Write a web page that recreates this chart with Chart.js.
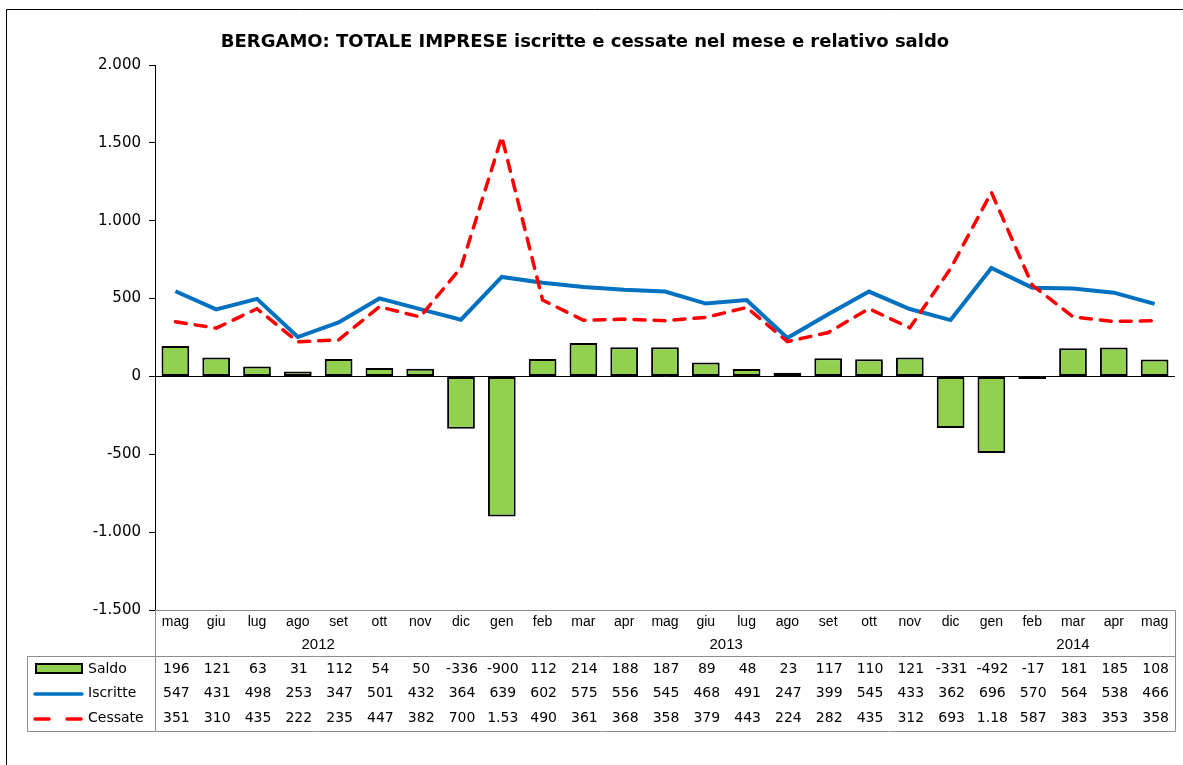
<!DOCTYPE html>
<html>
<head>
<meta charset="utf-8">
<script src="https://cdn.jsdelivr.net/npm/chart.js@4.4.1/dist/chart.umd.min.js"></script>
<style>
  html, body { margin: 0; padding: 0; background: #fff; }
  #wrap { width: 1183px; height: 765px; position: relative; }
</style>
</head>
<body>
<div id="wrap"><canvas id="chart" width="1183" height="765"></canvas></div>
<script>
// Data
const months = ['mag', 'giu', 'lug', 'ago', 'set', 'ott', 'nov', 'dic', 'gen', 'feb', 'mar', 'apr', 'mag',
                'giu', 'lug', 'ago', 'set', 'ott', 'nov', 'dic', 'gen', 'feb', 'mar', 'apr', 'mag'];
const years = [
    { label: '2012', from: 0, to: 7 },
    { label: '2013', from: 8, to: 19 },
    { label: '2014', from: 20, to: 24 }
];
const saldo = [196, 121, 63, 31, 112, 54, 50, -336, -900, 112, 214, 188, 187, 89, 48, 23, 117, 110, 121, -331, -492, -17, 181, 185, 108];
const iscritte = [547, 431, 498, 253, 347, 501, 432, 364, 639, 602, 575, 556, 545, 468, 491, 247, 399, 545, 433, 362, 696, 570, 564, 538, 466];
const cessate = [351, 310, 435, 222, 235, 447, 382, 700, 1539, 490, 361, 368, 358, 379, 443, 224, 282, 435, 312, 693, 1182, 587, 383, 353, 358];

// table shows values the way the source table does (big ones cut to 1.xx)
function tableText(v) {
    if (Math.abs(v) >= 1000) return (Math.floor(v / 10) / 100).toFixed(2);
    return String(v);
}
function thousands(v) {
    const s = Math.abs(v).toString().replace(/\B(?=(\d{3})+(?!\d))/g, '.');
    return (v < 0 ? '-' : '') + s;
}

const GREEN = '#92D050';
const BLUE = '#0070C0';
const RED = '#FF0000';
const GRAY = '#8c8c8c';

// Frame, title and the data table under the plot
const tablePlugin = {
    id: 'tablePlugin',
    beforeDraw(chart) {
        const ctx = chart.ctx;
        ctx.save();
        ctx.fillStyle = '#fff';
        ctx.fillRect(0, 0, chart.width, chart.height);
        ctx.strokeStyle = '#000';
        ctx.lineWidth = 1;
        ctx.beginPath();
        ctx.moveTo(6.5, 765);
        ctx.lineTo(6.5, 9.5);
        ctx.lineTo(1183, 9.5);
        ctx.stroke();
        ctx.restore();
    },
    afterDraw(chart) {
        const ctx = chart.ctx;
        const area = chart.chartArea;
        const x = chart.scales.x;
        const left = area.left, right = 1175;
        const rowTop = area.bottom, rowMid = 656, rowBot = 731, legLeft = 27;

        ctx.save();
        // title
        ctx.fillStyle = '#000';
        ctx.font = 'bold 18px "DejaVu Sans"';
        ctx.textAlign = 'center';
        ctx.textBaseline = 'middle';
        ctx.fillText('BERGAMO: TOTALE IMPRESE iscritte e cessate nel mese e relativo saldo', 585, 42);

        // table lines
        ctx.strokeStyle = GRAY;
        ctx.lineWidth = 1;
        ctx.beginPath();
        ctx.moveTo(left, rowTop + 0.5); ctx.lineTo(right + 0.5, rowTop + 0.5);
        ctx.lineTo(right + 0.5, rowBot + 0.5); ctx.lineTo(legLeft + 0.5, rowBot + 0.5);
        ctx.lineTo(legLeft + 0.5, rowMid + 0.5); ctx.lineTo(right + 0.5, rowMid + 0.5);
        ctx.moveTo(left + 0.5, rowTop); ctx.lineTo(left + 0.5, rowBot);
        ctx.stroke();

        // month + year labels
        ctx.fillStyle = '#000';
        ctx.textAlign = 'center';
        ctx.font = '14px "Liberation Sans"';
        months.forEach((m, i) => ctx.fillText(m, x.getPixelForValue(i), 622));
        ctx.font = '15px "Liberation Sans"';
        years.forEach(y => {
            const cx = (x.getPixelForValue(y.from) + x.getPixelForValue(y.to)) / 2;
            ctx.fillText(y.label, cx, 645);
        });

        // value rows
        const rows = [[saldo, 669], [iscritte, 693], [cessate, 718]];
        ctx.font = '14px "DejaVu Sans"';
        rows.forEach(([vals, y]) => {
            vals.forEach((v, i) => ctx.fillText(tableText(v), x.getPixelForValue(i) + 1, y));
        });

        // legend keys
        ctx.textAlign = 'left';
        ctx.font = '14px "DejaVu Sans"';
        ctx.fillStyle = GREEN;
        ctx.fillRect(36, 664, 46, 9);
        ctx.strokeStyle = '#000';
        ctx.lineWidth = 2;
        ctx.strokeRect(36, 664, 46, 9);
        ctx.fillStyle = '#000';
        ctx.fillText('Saldo', 88, 669);

        ctx.strokeStyle = BLUE;
        ctx.lineWidth = 3.5;
        ctx.lineCap = 'round';
        ctx.beginPath(); ctx.moveTo(35, 694); ctx.lineTo(82, 694); ctx.stroke();
        ctx.fillText('Iscritte', 88, 693);

        ctx.strokeStyle = RED;
        ctx.beginPath();
        ctx.moveTo(35, 719); ctx.lineTo(49, 719);
        ctx.moveTo(67, 719); ctx.lineTo(81, 719);
        ctx.stroke();
        ctx.fillText('Cessate', 88, 718);
        ctx.restore();
    }
};

const chart = new Chart(document.getElementById('chart'), {
    data: {
        labels: months,
        datasets: [
            {
                type: 'line',
                label: 'Cessate',
                data: cessate,
                borderColor: RED,
                borderWidth: 3.5,
                borderDash: [11, 9],
                borderCapStyle: 'round',
                pointRadius: 0,
                tension: 0,
                order: 1
            },
            {
                type: 'line',
                label: 'Iscritte',
                data: iscritte,
                borderColor: BLUE,
                borderWidth: 4,
                pointRadius: 0,
                tension: 0,
                order: 2
            },
            {
                type: 'bar',
                label: 'Saldo',
                data: saldo,
                backgroundColor: GREEN,
                borderColor: '#000',
                borderWidth: 2,
                borderSkipped: false,
                barPercentage: 1,
                categoryPercentage: 0.68,
                order: 3
            }
        ]
    },
    options: {
        responsive: false,
        animation: false,
        layout: { padding: { left: 0, top: 65, right: 8, bottom: 155 } },
        plugins: {
            legend: { display: false },
            title: { display: false },
            tooltip: { enabled: false }
        },
        scales: {
            x: {
                display: false,
                offset: true
            },
            y: {
                min: -1500,
                max: 2000,
                afterFit: s => { s.width = 155; },
                ticks: {
                    stepSize: 500,
                    color: '#000',
                    padding: 8,
                    font: { family: 'DejaVu Sans', size: 15 },
                    callback: v => thousands(v)
                },
                grid: {
                    color: c => c.tick && c.tick.value === 0 ? '#000' : 'rgba(0,0,0,0)',
                    tickColor: '#000',
                    tickLength: 6,
                    lineWidth: 1
                },
                border: { color: '#000', width: 1 }
            }
        }
    },
    plugins: [tablePlugin]
});
</script>
</body>
</html>
